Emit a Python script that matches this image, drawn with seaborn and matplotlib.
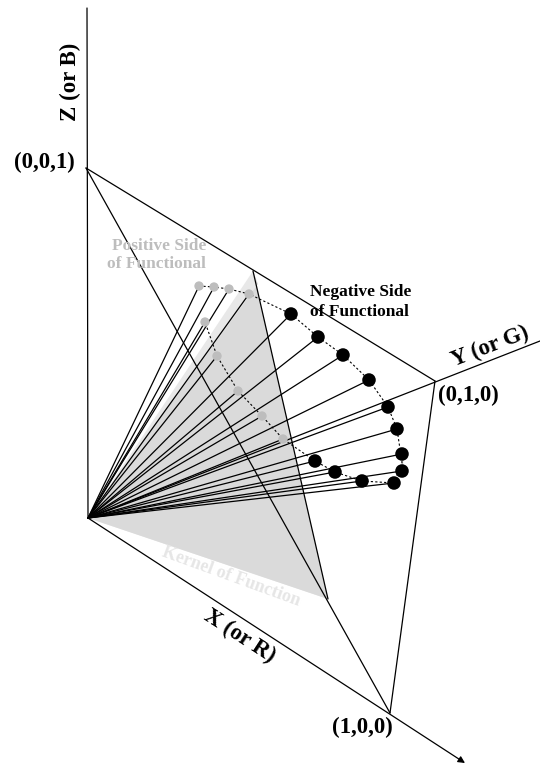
import numpy as np
import pandas as pd
import matplotlib.pyplot as plt
import seaborn as sns

sns.set_theme(style='white')
plt.rcParams['font.family'] = ['Liberation Serif', 'DejaVu Serif']

# screen positions (pixels, y down) of the diagram points
origin = (88, 518)
z_end = (87, 8)
y_end = (540, 341)
x_tip = (465, 763)
corner_z = (86, 168)
corner_y = (435, 381)
corner_x = (390, 713)
kernel_top = (253, 271)
kernel_inner = (258, 284)
kernel_bottom = (328, 599)

# colour samples on the positive side (grey) and negative side (black)
pos_x = [199, 214, 229, 249, 205, 217, 238, 262, 283]
pos_y = [286, 287, 289, 294, 322, 356, 391, 416, 439]
neg_x = [291, 318, 343, 369, 388, 397, 402, 402, 394, 362, 335, 315]
neg_y = [314, 337, 355, 380, 407, 429, 454, 471, 483, 481, 472, 461]

# order in which the dashed outline visits the samples
loop_x = [199, 214, 229, 249, 291, 318, 343, 369, 388, 397, 402, 402, 394,
          362, 335, 315, 283, 262, 238, 217, 205, 199]
loop_y = [286, 287, 289, 294, 314, 337, 355, 380, 407, 429, 454, 471, 483,
          481, 472, 461, 439, 416, 391, 356, 322, 286]

fig = plt.figure(figsize=(5.4, 7.64), dpi=100)
ax = fig.add_axes([0, 0, 1, 1])
ax.set_xlim(0, 540)
ax.set_ylim(764, 0)
ax.axis('off')

# kernel plane (light rim along the upper edge, then the darker body)
ax.fill([origin[0], kernel_top[0], kernel_bottom[0]],
        [origin[1], kernel_top[1], kernel_bottom[1]],
        color='#e8e8e8', lw=0, zorder=1)
ax.fill([origin[0], kernel_inner[0], kernel_top[0], kernel_bottom[0]],
        [origin[1], kernel_inner[1], kernel_top[1], kernel_bottom[1]],
        color='#dadada', lw=0, zorder=1)

# axes
lw = 0.9
ax.plot([origin[0], z_end[0]], [origin[1], z_end[1]], color='black', lw=lw, zorder=2)
ax.plot([origin[0], y_end[0]], [origin[1], y_end[1]], color='black', lw=lw, zorder=2)
ax.annotate('', xy=x_tip, xytext=origin,
            arrowprops=dict(arrowstyle='-|>', color='black', lw=lw,
                            mutation_scale=10, shrinkA=0, shrinkB=0), zorder=2)

# unit triangle and kernel edge
for a, b in [(corner_z, corner_y), (corner_z, corner_x), (corner_y, corner_x),
             (kernel_top, kernel_bottom)]:
    ax.plot([a[0], b[0]], [a[1], b[1]], color='black', lw=lw, zorder=2)

# rays from origin to every sample
for x, y in zip(pos_x + neg_x, pos_y + neg_y):
    ax.plot([origin[0], x], [origin[1], y], color='black', lw=0.9, zorder=2)

# dashed outline
sns.lineplot(x=loop_x, y=loop_y, sort=False, ax=ax, color='black',
             lw=0.8, linestyle=(0, (2, 2)), zorder=3)

sns.scatterplot(x=pos_x, y=pos_y, ax=ax, color='#bdbdbd', s=45,
                edgecolor='none', zorder=4)
sns.scatterplot(x=neg_x, y=neg_y, ax=ax, color='black', s=95,
                edgecolor='none', zorder=4)

bold = dict(fontweight='bold', color='black')
ax.text(70, 82, 'Z (or B)', rotation=90, ha='center', va='center', fontsize=16.5, **bold)
ax.text(44, 162, '(0,0,1)', ha='center', va='center', fontsize=16.5, **bold)
ax.text(438, 395, '(0,1,0)', ha='left', va='center', fontsize=16.5, **bold)
ax.text(362, 727, '(1,0,0)', ha='center', va='center', fontsize=16.5, **bold)
ax.text(490, 347, 'Y (or G)', rotation=21, ha='center', va='center',
        rotation_mode='anchor', fontsize=16.5, **bold)
ax.text(240, 636, 'X (or R)', rotation=-33, ha='center', va='center',
        rotation_mode='anchor', fontsize=16.5, **bold)

ax.text(310, 302, 'Negative Side\nof Functional', ha='left', va='center',
        fontsize=12.5, linespacing=1.25, **bold)
ax.text(206, 255, 'Positive Side\nof Functional', ha='right', va='center',
        fontsize=12.5, linespacing=1.25, fontweight='bold', color='#bdbdbd')
ax.text(231, 577, 'Kernel of Function', rotation=-20, ha='center', va='center',
        rotation_mode='anchor', fontsize=13, fontweight='bold', color='#e6e6e6',
        zorder=2)

fig.savefig('out.png', dpi=100)
